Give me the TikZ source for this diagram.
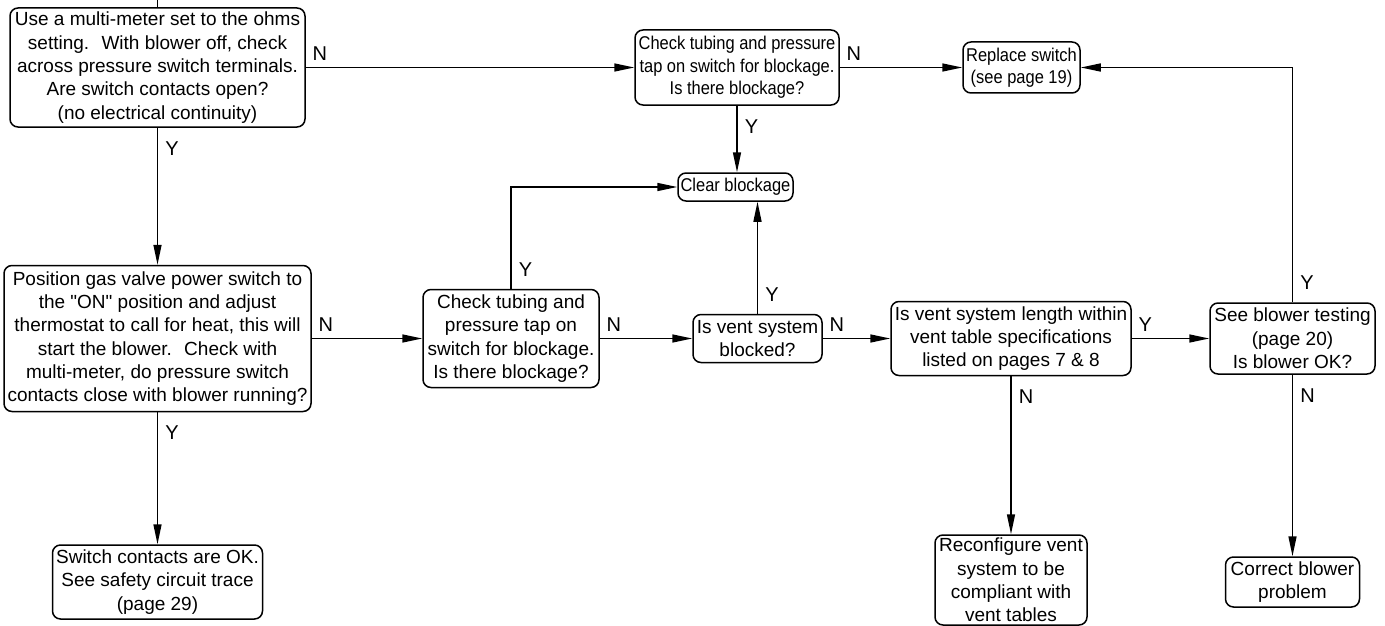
\documentclass[tikz,border=0pt]{standalone}
\usepackage{fontspec}
\setmainfont{Liberation Sans}
\newfontfamily\narrowsf[FakeStretch=0.89]{Liberation Sans}
\usetikzlibrary{arrows.meta}
\tikzset{
  box/.style={draw, line width=1.5pt, rounded corners=8pt, align=center, inner sep=2pt,
    font=\fontsize{19}{23.3}\selectfont},
  boxs/.style={box, font=\narrowsf\fontsize{18.5}{22.5}\selectfont},
  flow/.style={line width=1.5pt, -{Triangle[length=20pt,width=8pt]}},
  lbl/.style={font=\fontsize{20}{20}\selectfont, inner sep=0pt},
  lblDown/.style={lbl, at start, anchor=north west, xshift=7pt, yshift=-13pt},
  lblRight/.style={lbl, at start, anchor=south west, xshift=6pt, yshift=6pt},
  lblUp/.style={lbl, at start, anchor=south west, xshift=7pt, yshift=12pt},
}

\begin{document}
\begin{tikzpicture}[x=1pt, y=-1pt]
  \useasboundingbox (0,0) rectangle (1385,626);
  % top row
  \coordinate (in) at (157.5,0);
  \node[box, minimum width=295pt, minimum height=119pt] (A) at (157.5,67.5)
    {Use a multi-meter set to the ohms\\ setting.~ With blower off, check\\
     across pressure switch terminals.\\ Are switch contacts open?\\ (no electrical continuity)};
  \node[boxs, minimum width=204pt, minimum height=75pt] (B) at (737,67.5)
    {Check tubing and pressure\\ tap on switch for blockage.\\ Is there blockage?};
  \node[boxs, minimum width=117pt, minimum height=51pt] (R) at (1021.5,67.5)
    {Replace switch\\ (see page 19)};
  \node[boxs, minimum width=115pt, minimum height=28pt] (CL) at (735.5,187) {Clear blockage};
  % middle row
  \node[box, minimum width=307pt, minimum height=146pt] (C) at (157.5,338.5)
    {Position gas valve power switch to\\ the \textquotedbl ON\textquotedbl{} position and adjust\\
     thermostat to call for heat, this will\\ start the blower.~ Check with\\
     multi-meter, do pressure switch\\ contacts close with blower running?};
  \node[box, minimum width=176pt, minimum height=98pt] (D) at (511,338.5)
    {Check tubing and\\ pressure tap on\\ switch for blockage.\\ Is there blockage?};
  \node[box, minimum width=129pt, minimum height=48pt] (E) at (757.5,338.5)
    {Is vent system\\ blocked?};
  \node[box, minimum width=240pt, minimum height=74pt] (F) at (1011,338.5)
    {Is vent system length within\\ vent table specifications\\ listed on pages 7 \& 8};
  \node[box, minimum width=165pt, minimum height=71pt] (G) at (1292.5,338.5)
    {See blower testing\\ (page 20)\\ Is blower OK?};
  % bottom row
  \node[box, minimum width=210pt, minimum height=74pt] (S) at (157.5,582)
    {Switch contacts are OK.\\ See safety circuit trace\\ (page 29)};
  \node[box, minimum width=152pt, minimum height=90pt] (RV) at (1011,580)
    {Reconfigure vent\\ system to be\\ compliant with\\ vent tables};
  \node[box, minimum width=134pt, minimum height=50pt] (CB) at (1292.5,582)
    {Correct blower\\ problem};

  \draw[line width=1.5pt] (in) -- (A);
  \draw[flow] (A) -- node[lblRight] {N} (B);
  \draw[flow] (B) -- node[lblRight] {N} (R);
  \draw[flow] (B.south) -- node[lblDown] {Y} (B.south |- CL.north);
  \draw[flow] (A) -- node[lblDown] {Y} (C);
  \draw[flow] (C) -- node[lblDown] {Y} (S);
  \draw[flow] (C) -- node[lblRight] {N} (D);
  \draw[flow] (D.north) |- node[lblUp] {Y} (CL.west);
  \draw[flow] (D) -- node[lblRight] {N} (E);
  \draw[flow] (E.north) -- node[lblUp] {Y} (E.north |- CL.south);
  \draw[flow] (E) -- node[lblRight] {N} (F);
  \draw[flow] (F) -- node[lblRight] {Y} (G);
  \draw[flow] (G.north) |- node[lblUp] {Y} (R.east);
  \draw[flow] (F) -- node[lblDown] {N} (RV);
  \draw[flow] (G) -- node[lblDown] {N} (CB);
\end{tikzpicture}
\end{document}
